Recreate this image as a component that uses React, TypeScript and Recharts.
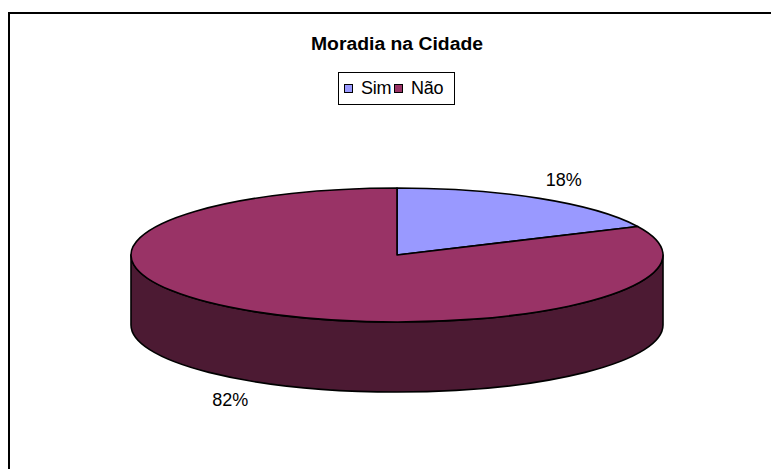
import React from "react";
import { PieChart, Pie, Cell, Legend } from "recharts";

const categories = ["Sim", "Não"];
const shares = [18, 82];
const topColors = ["#9999FF", "#993366"];
const sideColors = ["#4D4D80", "#4C1A33"];

const chartTitle = "Moradia na Cidade";

const FONT = '"Liberation Sans", Arial, sans-serif';
const RAD = Math.PI / 180;
// how flat the disc looks and how thick its edge is, relative to its x radius
const TILT = 0.252;
const DEPTH = 0.263;

const data = categories.map((name, i) => ({ name, value: shares[i] }));

function renderSlice(props: any) {
  const { cx, cy, outerRadius, startAngle, endAngle, fill } = props;
  const idx = categories.indexOf(props.payload?.name ?? props.name);
  const rx = outerRadius;
  const ry = rx * TILT;
  const depth = rx * DEPTH;
  const pt = (a: number, dy = 0) => [cx + rx * Math.cos(a * RAD), cy - ry * Math.sin(a * RAD) + dy];
  const hi = Math.max(startAngle, endAngle);
  const lo = Math.min(startAngle, endAngle);

  // front wall: only the lower half of the rim is visible
  const walls: string[] = [];
  for (let k = -1; k <= 1; k++) {
    const a1 = Math.max(lo, -180 + 360 * k);
    const a2 = Math.min(hi, 360 * k);
    if (a2 - a1 > 0.01) {
      const [x1, y1] = pt(a2);
      const [x2, y2] = pt(a1);
      const [x3, y3] = pt(a1, depth);
      const [x4, y4] = pt(a2, depth);
      walls.push(
        `M${x1},${y1} A${rx},${ry} 0 0 1 ${x2},${y2} L${x3},${y3} A${rx},${ry} 0 0 0 ${x4},${y4} Z`
      );
    }
  }

  const [sx, sy] = pt(hi);
  const [ex, ey] = pt(lo);
  const large = hi - lo > 180 ? 1 : 0;
  const top = `M${cx},${cy} L${sx},${sy} A${rx},${ry} 0 ${large} 1 ${ex},${ey} Z`;

  return (
    <g>
      {walls.map((d, i) => (
        <path key={i} d={d} fill={sideColors[idx] ?? "#333"} stroke="#000" strokeWidth={1.6} strokeLinejoin="round" />
      ))}
      <path d={top} fill={fill} stroke="#000" strokeWidth={1.6} strokeLinejoin="round" />
    </g>
  );
}

function renderLabel(props: any) {
  const { cx, cy, midAngle, outerRadius, percent } = props;
  const rx = outerRadius;
  const ry = rx * TILT;
  const depth = rx * DEPTH;
  const c = Math.cos(midAngle * RAD);
  const s = Math.sin(midAngle * RAD);
  const x = cx + rx * c * 1.17;
  const y = cy - ry * s * 1.33 + (s < 0 ? depth : 0);
  return (
    <text x={x} y={y + 6} textAnchor="middle" fontFamily={FONT} fontSize={18} fill="#000">
      {`${Math.round(percent * 100)}%`}
    </text>
  );
}

function LegendBox() {
  return (
    <div
      style={{
        boxSizing: "border-box",
        width: 117,
        height: 33,
        border: "1.5px solid #000",
        background: "#fff",
        display: "flex",
        alignItems: "center",
        paddingLeft: 5,
        fontFamily: FONT,
        fontSize: 18,
        color: "#000",
        letterSpacing: -0.3,
      }}
    >
      {categories.map((name, i) => (
        <span key={name} style={{ display: "flex", alignItems: "center", marginLeft: i === 0 ? 0 : 3 }}>
          <span
            style={{
              display: "inline-block",
              boxSizing: "border-box",
              width: 9,
              height: 9,
              border: "1px solid #000",
              background: topColors[i],
              marginRight: 8,
            }}
          />
          {name}
        </span>
      ))}
    </div>
  );
}

export default function App() {
  return (
    <div
      style={{
        position: "absolute",
        left: 0,
        top: 0,
        width: 771,
        height: 469,
        background: "#fff",
        overflow: "hidden",
      }}
    >
      <div
        style={{
          position: "absolute",
          left: 8,
          top: 12,
          width: 800,
          height: 500,
          borderTop: "2.5px solid #000",
          borderLeft: "2.5px solid #000",
        }}
      />
      <PieChart width={771} height={469} margin={{ top: 0, right: 0, bottom: 0, left: 0 }}>
        <text x={397} y={50} textAnchor="middle" fontFamily={FONT} fontWeight="bold" fontSize={18} textLength={172} lengthAdjust="spacingAndGlyphs" fill="#000">
          {chartTitle}
        </text>
        <Pie
          data={data}
          dataKey="value"
          nameKey="name"
          cx={397}
          cy={255}
          outerRadius={266}
          startAngle={90}
          endAngle={-270}
          isAnimationActive={false}
          shape={renderSlice}
          activeShape={renderSlice}
          inactiveShape={renderSlice}
          label={renderLabel}
          labelLine={false}
        >
          {data.map((d, i) => (
            <Cell key={d.name} fill={topColors[i]} />
          ))}
        </Pie>
        <Legend content={<LegendBox />} wrapperStyle={{ position: "absolute", left: 338, top: 72, width: 117, height: 33 }} />
      </PieChart>
    </div>
  );
}
